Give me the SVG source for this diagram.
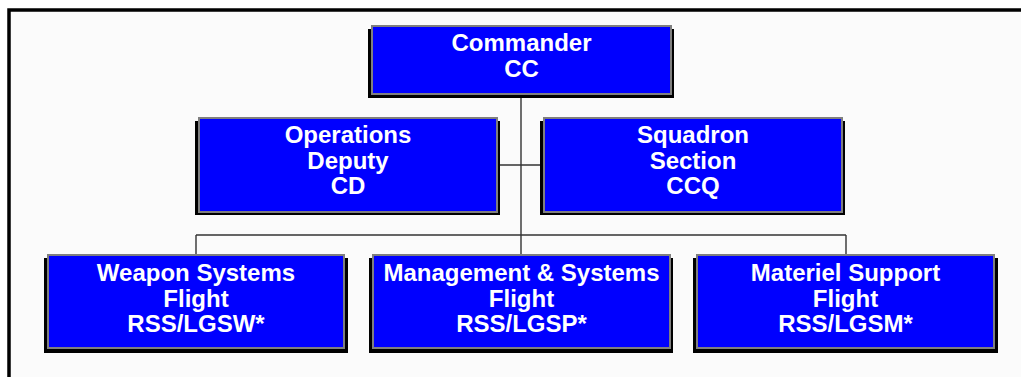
<svg xmlns="http://www.w3.org/2000/svg" width="1021" height="377" viewBox="0 0 1021 377">
<style>
.sh{fill:#000}
.bx{fill:#0000ff;stroke:#7f7f7f;stroke-width:2}
.t{fill:#fff;font-family:"Liberation Sans",Arial,sans-serif;font-weight:bold;font-size:24px;text-anchor:middle}
.c{stroke:#333;stroke-width:1.4;fill:none}
</style>
<rect width="1021" height="377" fill="#fff"/>
<rect x="9" y="10" width="1012" height="367" fill="#fbfbfb"/>
<path d="M9 377 V10 H1021" fill="none" stroke="#000" stroke-width="3.5"/>
<g id="connectors">
<path class="c" d="M521 94 V255"/>
<path class="c" d="M497 165 H544"/>
<path class="c" d="M196 235 H846"/>
<path class="c" d="M196 235 V255"/>
<path class="c" d="M846 235 V255"/>
</g>
<g id="commander">
<rect class="sh" x="368" y="29" width="306" height="69"/>
<rect class="bx" x="372" y="26" width="299" height="68"/>
<text class="t" x="521.5" y="51">Commander</text>
<text class="t" x="521.5" y="77">CC</text>
</g>
<g id="operations">
<rect class="sh" x="195" y="121" width="305" height="94"/>
<rect class="bx" x="199" y="118" width="298" height="94"/>
<text class="t" x="348" y="143">Operations</text>
<text class="t" x="348" y="168.5">Deputy</text>
<text class="t" x="348" y="194">CD</text>
</g>
<g id="squadron">
<rect class="sh" x="540" y="121" width="305" height="94"/>
<rect class="bx" x="544" y="118" width="298" height="94"/>
<text class="t" x="693" y="143">Squadron</text>
<text class="t" x="693" y="168.5">Section</text>
<text class="t" x="693" y="194">CCQ</text>
</g>
<g id="weapon">
<rect class="sh" x="44" y="258" width="304" height="95"/>
<rect class="bx" x="48" y="255" width="296" height="93"/>
<text class="t" x="196" y="281">Weapon Systems</text>
<text class="t" x="196" y="306.5">Flight</text>
<text class="t" x="196" y="332">RSS/LGSW*</text>
</g>
<g id="management">
<rect class="sh" x="369" y="258" width="304" height="95"/>
<rect class="bx" x="373" y="255" width="297" height="93"/>
<text class="t" x="521.5" y="281">Management &amp; Systems</text>
<text class="t" x="521.5" y="306.5">Flight</text>
<text class="t" x="521.5" y="332">RSS/LGSP*</text>
</g>
<g id="materiel">
<rect class="sh" x="693" y="258" width="305" height="95"/>
<rect class="bx" x="697" y="255" width="297" height="93"/>
<text class="t" x="845.5" y="281">Materiel Support</text>
<text class="t" x="845.5" y="306.5">Flight</text>
<text class="t" x="845.5" y="332">RSS/LGSM*</text>
</g>
</svg>
